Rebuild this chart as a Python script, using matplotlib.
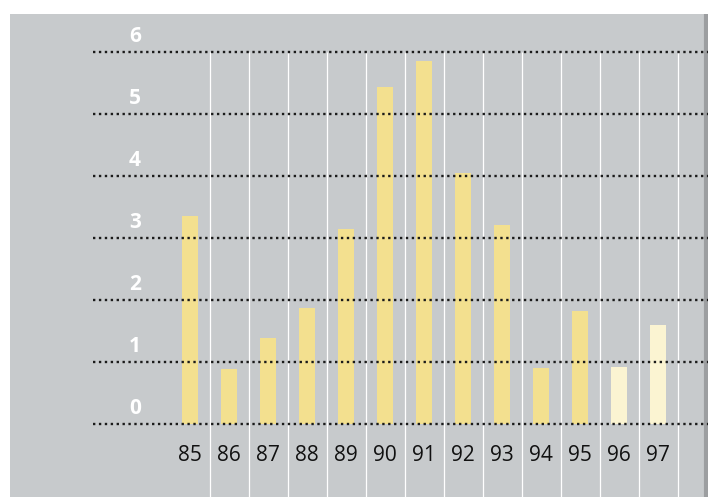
import numpy as np
import matplotlib.pyplot as plt

years = ["85", "86", "87", "88", "89", "90", "91", "92", "93", "94", "95", "96", "97"]
values = [3.35, 0.88, 1.38, 1.87, 3.14, 5.44, 5.85, 4.05, 3.21, 0.91, 1.82, 0.92, 1.59]
yticks = [0, 1, 2, 3, 4, 5, 6]

bar_col = '#f3e08f'
pale_col = '#fbf4d2'
bg = '#c7cacc'

fig = plt.figure(figsize=(7.23, 4.97), dpi=100)
fig.patch.set_facecolor('white')
ax = fig.add_axes([10/723, 0, 698/723, 483/497])
ax.set_facecolor(bg)
for s in ax.spines.values():
    s.set_visible(False)

x = np.arange(len(years))
colors = [bar_col]*11 + [pale_col]*2
ax.bar(x, values, width=0.41, color=colors, zorder=2)

# vertical white separators
for i in range(len(years)):
    ax.vlines(i + 0.5, -1.2, 6, color='white', lw=0.9, zorder=1)

# dotted horizontal grid
for v in yticks:
    ax.hlines(v, -2.49, 13.28, color='#1a1a1a', lw=1.7,
              linestyle=(0, (1, 1.5)), zorder=3)
    ax.text(-1.41, v + 0.25, str(v), color='white', fontsize=15,
            fontweight='bold', family='Open Sans', ha='center', va='center')

for i, lab in enumerate(years):
    ax.text(i, -0.5, lab, color='#111111', fontsize=15, family='Open Sans',
            ha='center', va='center')

# shadowed right edge of the sheet
ax.axvline(13.22, color='#9c9ea0', lw=3, zorder=1)

ax.set_xlim(-4.615, 13.28)
ax.set_ylim(-1.177, 6.61)
ax.set_xticks([])
ax.set_yticks([])

plt.savefig('out.png', dpi=100)
